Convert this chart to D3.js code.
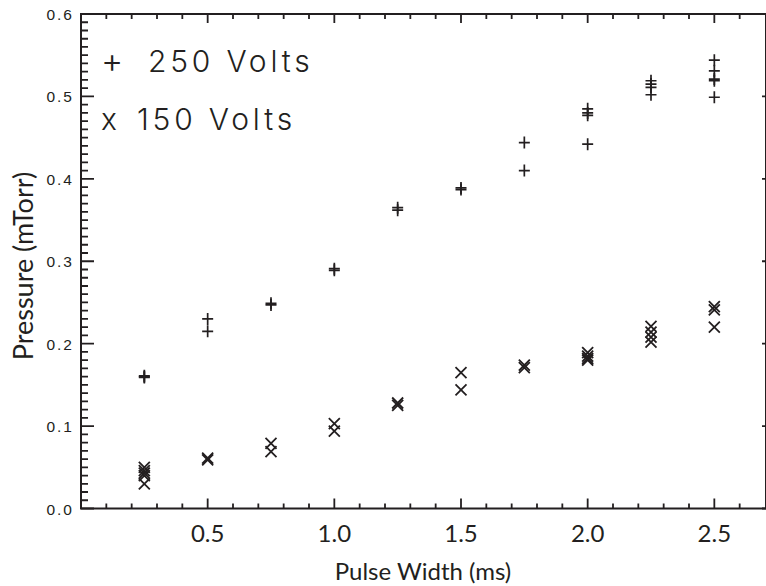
<!DOCTYPE html>
<html>
<head>
<meta charset="utf-8">
<script src="https://cdn.jsdelivr.net/npm/d3@7"></script>
</head>
<body style="margin:0">
<svg id="chart" width="766" height="586"></svg>
<script>
// pulse widths (ms) at which the measurements were taken
let pulseWidths = [0.25, 0.5, 0.75, 1.0, 1.25, 1.5, 1.75, 2.0, 2.25, 2.5]

// pressure readings (mTorr), one list per pulse width
let volts250 = [
  [0.159, 0.160, 0.161],
  [0.215, 0.230],
  [0.247, 0.249],
  [0.289, 0.291],
  [0.362, 0.365],
  [0.387, 0.389],
  [0.410, 0.444],
  [0.442, 0.477, 0.480, 0.485],
  [0.502, 0.511, 0.515, 0.519],
  [0.499, 0.519, 0.521, 0.531, 0.544]
]
let volts150 = [
  [0.030, 0.040, 0.043, 0.046, 0.050],
  [0.059, 0.061],
  [0.069, 0.079],
  [0.094, 0.103],
  [0.125, 0.128],
  [0.144, 0.165],
  [0.171, 0.174],
  [0.180, 0.182, 0.185, 0.189],
  [0.202, 0.208, 0.214, 0.221],
  [0.220, 0.241, 0.245]
]

let xTicks = [0.5, 1.0, 1.5, 2.0, 2.5]
let yTicks = [0.0, 0.1, 0.2, 0.3, 0.4, 0.5, 0.6]
let xMinorTicks = [0.1, 0.2, 0.3, 0.4, 0.6, 0.7, 0.8, 0.9, 1.1, 1.2, 1.3, 1.4, 1.6, 1.7, 1.8, 1.9, 2.1, 2.2, 2.3, 2.4, 2.6]
let yMinorTicks = d3.range(60).filter(i => i % 10 != 0).map(i => i / 100)
let legendLabels = ["250 Volts", "150 Volts"]

let ink = "#231f20"
let svg = d3.select("#chart")

let x = d3.scaleLinear().domain([0, 2.7]).range([81, 765])
let y = d3.scaleLinear().domain([0, 0.6]).range([508.5, 14])

// frame
svg.append("path")
  .attr("d", "M81,509.5V14H766M80,508.5H766V14")
  .attr("fill", "none")
  .attr("stroke", ink)
  .attr("stroke-width", 2)

// tick marks on all four sides, one path per side built from the scales
let xt = (vals, y0, len) => vals.map(v => "M" + x(v) + "," + y0 + "v" + len).join("")
let yt = (vals, x0, len) => vals.map(v => "M" + x0 + "," + y(v) + "h" + len).join("")
let tickPaths = [
  xt(xTicks, 508.5, -10) + xt(xMinorTicks, 508.5, -5),
  xt(xTicks, 14, 9) + xt(xMinorTicks, 14, 5),
  yt(yTicks, 81, 13) + yt(yMinorTicks, 81, 7),
  yt(yTicks, 766, -4)
]
tickPaths.forEach(p => {
  svg.append("path")
    .attr("d", p)
    .attr("fill", "none")
    .attr("stroke", ink)
    .attr("stroke-width", 1.8)
})

// tick labels
svg.selectAll(".xlab")
  .data(xTicks).enter()
  .append("text")
  .attr("class", "xlab")
  .attr("x", d => x(d))
  .attr("y", 542)
  .attr("text-anchor", "middle")
  .attr("font-family", "Lato, 'Open Sans', sans-serif")
  .attr("font-size", 24)
  .attr("fill", ink)
  .text(d3.format(".1f"))

svg.selectAll(".ylab")
  .data(yTicks).enter()
  .append("text")
  .attr("class", "ylab")
  .attr("x", 74)
  .attr("y", d => y(d) + 6)
  .attr("text-anchor", "end")
  .attr("font-family", "'Liberation Sans', Arial, sans-serif")
  .attr("font-size", 15.5)
  .attr("letter-spacing", 2)
  .attr("fill", ink)
  .text(d3.format(".1f"))

// axis titles
svg.append("text")
  .attr("x", (x.range()[0] + x.range()[1]) / 2)
  .attr("y", 580)
  .attr("text-anchor", "middle")
  .attr("font-family", "Lato, 'Open Sans', sans-serif")
  .attr("font-size", 24)
  .attr("fill", ink)
  .text("Pulse Width (ms)")

svg.append("text")
  .attr("transform", "translate(32.5,266) rotate(-90)")
  .attr("text-anchor", "middle")
  .attr("font-family", "Lato, 'Open Sans', sans-serif")
  .attr("font-size", 27)
  .attr("fill", ink)
  .text("Pressure (mTorr)")

// markers
let plusPath = "M-5.5,0H5.5M0,-6V6"
let crossPath = "M-5.5,-5.5L5.5,5.5M-5.5,5.5L5.5,-5.5"

let flat = (sets) => sets.flatMap((vals, i) => vals.map(v => ({x: pulseWidths[i], y: v})))

svg.append("g").selectAll("path")
  .data(flat(volts250)).enter()
  .append("path")
  .attr("d", plusPath)
  .attr("transform", d => "translate(" + x(d.x) + "," + y(d.y) + ")")
  .attr("fill", "none")
  .attr("stroke", ink)
  .attr("stroke-width", 1.7)

svg.append("g").selectAll("path")
  .data(flat(volts150)).enter()
  .append("path")
  .attr("d", crossPath)
  .attr("transform", d => "translate(" + x(d.x) + "," + y(d.y) + ")")
  .attr("fill", "none")
  .attr("stroke", ink)
  .attr("stroke-width", 1.8)

// legend
let legend = svg.append("g")
  .attr("font-family", "Inter, 'Liberation Sans', sans-serif")
  .attr("font-weight", 300)
  .attr("font-size", 30)
  .attr("fill", ink)
legend.append("text").attr("x", 101).attr("y", 73).attr("font-size", 34).text("+")
legend.append("text").attr("x", 148).attr("y", 72).attr("letter-spacing", 3.8).text(legendLabels[0])
legend.append("text").attr("x", 101).attr("y", 130).text("x")
legend.append("text").attr("x", 137).attr("y", 130).attr("letter-spacing", 3.8).text(legendLabels[1])
</script>
</body>
</html>
